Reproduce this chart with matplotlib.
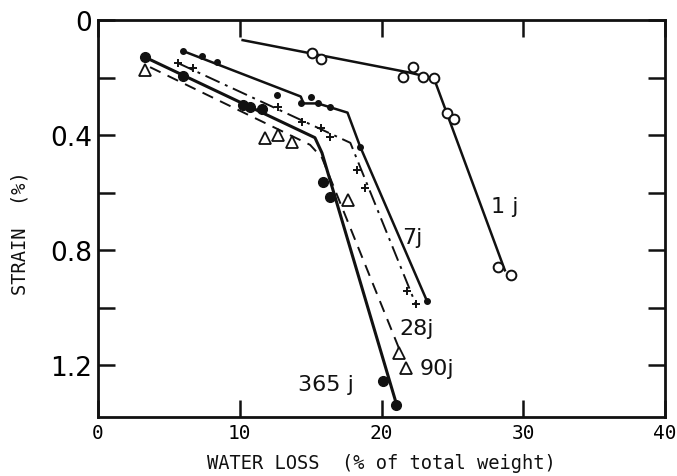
import matplotlib.pyplot as plt
import numpy as np

# data (x = water loss %, y = strain %)
x_1j = [15.1, 15.7, 21.5, 22.2, 22.9, 23.7, 24.6, 25.1, 28.2, 29.1]
y_1j = [0.115, 0.136, 0.199, 0.164, 0.199, 0.203, 0.325, 0.343, 0.860, 0.885]
line_x_1j = [10.2, 21.9, 23.7, 28.7]
line_y_1j = [0.070, 0.182, 0.203, 0.870]

x_7j = [6.0, 7.3, 8.4, 12.6, 14.3, 15.0, 15.5, 16.4, 18.5, 23.2]
y_7j = [0.108, 0.126, 0.147, 0.262, 0.287, 0.266, 0.290, 0.301, 0.441, 0.976]
line_x_7j = [6.0, 14.3, 14.5, 15.5, 17.6, 18.5, 23.2]
line_y_7j = [0.108, 0.266, 0.290, 0.290, 0.322, 0.441, 0.976]

x_28j = [5.65, 6.7, 12.7, 14.4, 15.7, 16.4, 18.3, 18.8, 21.8, 22.4]
y_28j = [0.150, 0.168, 0.304, 0.353, 0.374, 0.406, 0.521, 0.584, 0.941, 0.986]
line_x_28j = [5.65, 17.8, 22.4]
line_y_28j = [0.150, 0.427, 0.986]

x_90j = [3.3, 11.8, 12.7, 13.7, 17.6, 21.2, 21.7]
y_90j = [0.175, 0.409, 0.399, 0.423, 0.626, 1.157, 1.210]
line_x_90j = [3.67, 14.96, 15.8, 21.45]
line_y_90j = [0.164, 0.434, 0.479, 1.168]

x_365j = [3.3, 6.0, 10.2, 10.7, 11.6, 15.9, 16.4, 20.1, 21.0]
y_365j = [0.129, 0.195, 0.294, 0.304, 0.311, 0.563, 0.615, 1.255, 1.339]
line_x_365j = [3.3, 15.3, 15.8, 21.1]
line_y_365j = [0.129, 0.409, 0.462, 1.343]

labels = ['1 j', '7j', '28j', '90j', '365 j']
label_x = [28.7, 22.2, 22.5, 23.9, 16.1]
label_y = [0.647, 0.755, 1.07, 1.21, 1.266]

ink = '#111111'
mono = 'DejaVu Sans Mono'

fig = plt.figure(figsize=(6.77, 4.77), dpi=100)
ax = fig.add_axes([0.1448, 0.1237, 0.8375, 0.8323])

# 1 day
ax.plot(line_x_1j, line_y_1j, color=ink, lw=1.8)
ax.plot(x_1j, y_1j, 'o', ms=7, mfc='white', mec=ink, mew=1.4)
# 7 days
ax.plot(line_x_7j, line_y_7j, color=ink, lw=1.8)
ax.plot(x_7j, y_7j, 'o', ms=4, color=ink)
# 28 days
ax.plot(line_x_28j, line_y_28j, color=ink, lw=1.4, ls=(0, (8, 3, 1.5, 3)))
ax.plot(x_28j, y_28j, '+', ms=6, mew=1.4, color=ink)
# 90 days
ax.plot(line_x_90j, line_y_90j, color=ink, lw=1.4, ls=(0, (6, 4)))
ax.plot(x_90j, y_90j, '^', ms=8, mfc='white', mec=ink, mew=1.3)
# 365 days
ax.plot(line_x_365j, line_y_365j, color=ink, lw=2.2)
ax.plot(x_365j, y_365j, 'o', ms=7, color=ink)

for t, lx, ly in zip(labels, label_x, label_y):
    ax.text(lx, ly, t, fontsize=16, ha='center', va='center', color=ink)

ax.set_xlim(0, 40)
ax.set_ylim(1.38, 0)

ax.set_xticks([0, 10, 20, 30, 40])
ax.set_xticklabels(['0', '10', '20', '30', '40'], family=mono, fontsize=14)
yt = np.arange(0, 1.21, 0.2)
ax.set_yticks(yt)
ax.set_yticklabels(['0', '', '0.4', '', '0.8', '', '1.2'], fontsize=19)

ax.tick_params(direction='in', length=12, width=1.8, color=ink, pad=4,
               top=True, right=True)

for s in ax.spines.values():
    s.set_linewidth(2)
    s.set_color(ink)

ax.set_xlabel('WATER LOSS  (% of total weight)', family=mono, fontsize=13.5,
              color=ink, labelpad=8)
ax.set_ylabel('STRAIN  (%)', family=mono, fontsize=13.5, color=ink)
ax.yaxis.set_label_coords(-0.12, 0.466)

fig.savefig('out.png', dpi=100)
